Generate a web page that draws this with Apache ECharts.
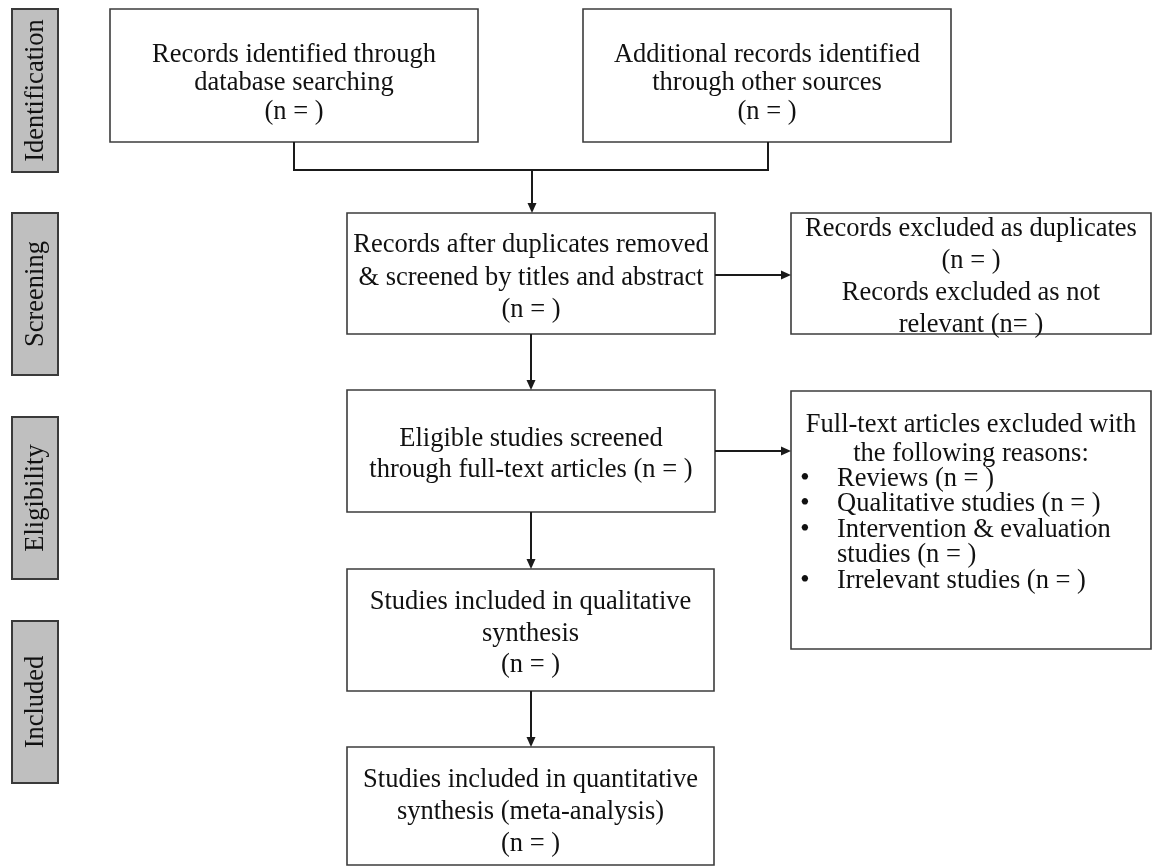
<!DOCTYPE html>
<html>
<head>
<meta charset="utf-8">
<script src="https://cdn.jsdelivr.net/npm/echarts/dist/echarts.min.js"></script>
<style>
html,body{margin:0;padding:0;background:#fff;}
#chart{width:1153px;height:866px;}
</style>
</head>
<body>
<div id="chart"></div>
<script>
// ---- content ----
const stageLabels = ['Identification', 'Screening', 'Eligibility', 'Included'];
const boxTexts = [
  'Records identified through\ndatabase searching\n(n = )',
  'Additional records identified\nthrough other sources\n(n = )',
  'Records after duplicates removed\n& screened by titles and abstract\n(n = )',
  'Records excluded as duplicates\n(n = )\nRecords excluded as not\nrelevant (n= )',
  'Eligible studies screened\nthrough full-text articles (n = )',
  'Full-text articles excluded with\nthe following reasons:',
  'Studies included in qualitative\nsynthesis\n(n = )',
  'Studies included in quantitative\nsynthesis (meta-analysis)\n(n = )'
];
const exclusionReasons = [
  'Reviews (n = )',
  'Qualitative studies (n = )',
  'Intervention & evaluation\nstudies (n = )',
  'Irrelevant studies (n = )'
];

// ---- layout (diagram units on hidden axes) ----
const stageFrames = [[12, 9, 58, 172], [12, 213, 58, 375], [12, 417, 58, 579], [12, 621, 58, 783]];
const boxFrames = [
  [110, 9, 478, 142], [583, 9, 951, 142],
  [347, 213, 715, 334], [791, 213, 1151, 334],
  [347, 390, 715, 512], [791, 391, 1151, 649],
  [347, 569, 714, 691], [347, 747, 714, 865]
];
// text block centre y and line height for each box
const boxTextLayout = [
  [83.5, 28.5], [83.5, 28.5], [278, 32.5], [277, 32],
  [454.5, 31], [440, 29], [634, 31.5], [812.5, 32]
];
const reasonLayout = { bulletX: 805, textX: 837, startY: 479, lineH: 25.5 };
const connectors = [
  { pts: [[294, 142], [294, 170], [768, 170], [768, 142]], arrow: false },
  { pts: [[532, 170], [532, 213]], arrow: true },
  { pts: [[715, 275], [791, 275]], arrow: true },
  { pts: [[531, 334], [531, 390]], arrow: true },
  { pts: [[715, 451], [791, 451]], arrow: true },
  { pts: [[531, 512], [531, 569]], arrow: true },
  { pts: [[531, 691], [531, 747]], arrow: true }
];

const FONT_FAMILY = '"Liberation Serif", "Times New Roman", serif';
const FONT_SIZE = 26.5;
const TEXT_COLOR = '#111';

const chart = echarts.init(document.getElementById('chart'), null, { renderer: 'canvas' });

function rectFromFrame(api, f) {
  const p0 = api.coord([f[0], f[1]]);
  const p1 = api.coord([f[2], f[3]]);
  return { x: Math.min(p0[0], p1[0]), y: Math.min(p0[1], p1[1]),
           width: Math.abs(p1[0] - p0[0]), height: Math.abs(p1[1] - p0[1]) };
}

const option = {
  animation: false,
  backgroundColor: '#ffffff',
  grid: { left: 0, right: 0, top: 0, bottom: 0 },
  xAxis: { type: 'value', min: 0, max: 1153, show: false },
  yAxis: { type: 'value', min: 0, max: 866, inverse: true, show: false },
  series: [
    {
      // stage tabs
      type: 'custom',
      coordinateSystem: 'cartesian2d',
      silent: true,
      data: stageLabels.map((s, i) => [i]),
      renderItem: function (params, api) {
        const i = api.value(0);
        const r = rectFromFrame(api, stageFrames[i]);
        return {
          type: 'group',
          children: [
            { type: 'rect', shape: r, style: { fill: '#bfbfbf', stroke: '#3a3a3a', lineWidth: 2 } },
            { type: 'text', x: r.x + r.width / 2 + 1.5, y: r.y + r.height / 2, rotation: Math.PI / 2,
              style: { text: stageLabels[i], fill: TEXT_COLOR, fontFamily: FONT_FAMILY, fontSize: FONT_SIZE,
                       align: 'center', verticalAlign: 'middle' } }
          ]
        };
      }
    },
    {
      // content boxes
      type: 'custom',
      coordinateSystem: 'cartesian2d',
      silent: true,
      data: boxTexts.map((s, i) => [i]),
      renderItem: function (params, api) {
        const i = api.value(0);
        const r = rectFromFrame(api, boxFrames[i]);
        const cy = api.coord([0, boxTextLayout[i][0]])[1];
        const children = [
          { type: 'rect', shape: r, style: { fill: '#ffffff', stroke: '#3c3c3c', lineWidth: 1.6 } },
          { type: 'text', x: r.x + r.width / 2, y: cy,
            style: { text: boxTexts[i], fill: TEXT_COLOR, fontFamily: FONT_FAMILY, fontSize: FONT_SIZE,
                     lineHeight: boxTextLayout[i][1], align: 'center', verticalAlign: 'middle' } }
        ];
        if (i === 5) {
          let row = 0;
          exclusionReasons.forEach(function (reason) {
            const lines = reason.split('\n');
            const y = api.coord([0, reasonLayout.startY + row * reasonLayout.lineH])[1];
            const bx = api.coord([reasonLayout.bulletX, 0])[0];
            const tx = api.coord([reasonLayout.textX, 0])[0];
            children.push({ type: 'text', x: bx, y: y,
              style: { text: '\u2022', fill: TEXT_COLOR, fontFamily: FONT_FAMILY, fontSize: FONT_SIZE,
                       align: 'center', verticalAlign: 'middle' } });
            children.push({ type: 'text', x: tx, y: y - reasonLayout.lineH / 2,
              style: { text: reason, fill: TEXT_COLOR, fontFamily: FONT_FAMILY, fontSize: FONT_SIZE,
                       lineHeight: reasonLayout.lineH, align: 'left', verticalAlign: 'top' } });
            row += lines.length;
          });
        }
        return { type: 'group', children: children };
      }
    },
    {
      // connectors & arrows
      type: 'custom',
      coordinateSystem: 'cartesian2d',
      silent: true,
      data: connectors.map((c, i) => [i]),
      renderItem: function (params, api) {
        const c = connectors[api.value(0)];
        const pts = c.pts.map(p => api.coord(p));
        const children = [];
        let linePts = pts.slice();
        if (c.arrow) {
          const a = pts[pts.length - 2], b = pts[pts.length - 1];
          const dx = b[0] - a[0], dy = b[1] - a[1];
          const len = Math.sqrt(dx * dx + dy * dy);
          const ux = dx / len, uy = dy / len;
          const L = 10, W = 4.5;
          const base = [b[0] - ux * L, b[1] - uy * L];
          linePts[linePts.length - 1] = [b[0] - ux * (L - 2), b[1] - uy * (L - 2)];
          children.push({ type: 'polygon', shape: { points: [
              [b[0], b[1]], [base[0] - uy * W, base[1] + ux * W], [base[0] + uy * W, base[1] - ux * W]] },
            style: { fill: '#1a1a1a' } });
        }
        children.unshift({ type: 'polyline', shape: { points: linePts },
          style: { stroke: '#1a1a1a', lineWidth: 2, fill: null } });
        return { type: 'group', children: children };
      }
    }
  ]
};
chart.setOption(option);
</script>
</body>
</html>
